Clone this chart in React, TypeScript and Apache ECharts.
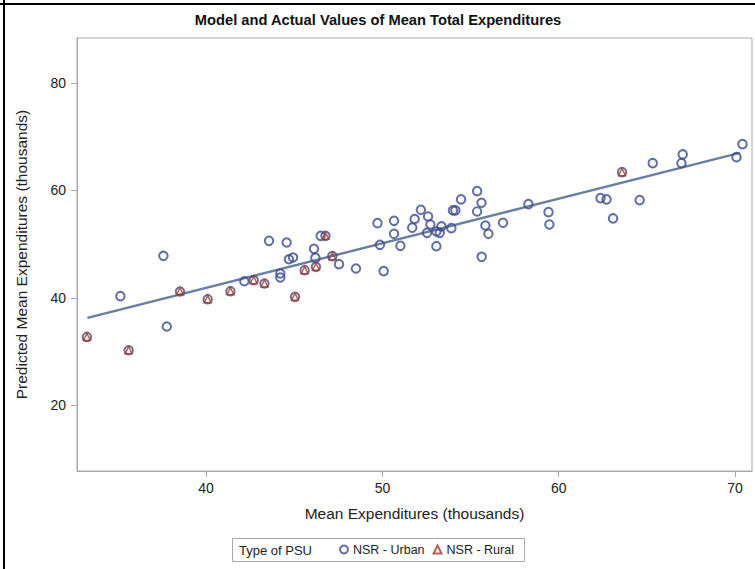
import React, { useEffect, useRef } from "react";
import * as echarts from "echarts";

const urbanX = [35.14, 37.58, 37.77, 42.17, 43.57, 44.21, 44.21, 44.57, 44.7, 44.93, 46.12, 46.2, 46.5, 47.54, 48.5, 49.72, 49.86, 50.07, 50.66, 50.66, 51.02, 51.69, 51.83, 52.18, 52.53, 52.59, 52.72, 53.06, 53.25, 53.35, 53.06, 53.91, 54.0, 54.14, 54.46, 55.37, 55.62, 55.37, 55.84, 56.01, 55.63, 56.84, 58.28, 59.42, 59.47, 62.37, 62.71, 63.08, 64.59, 65.33, 67.03, 66.96, 70.08, 70.42];
const urbanY = [40.32, 47.83, 34.67, 43.1, 50.62, 44.55, 43.8, 50.32, 47.2, 47.53, 49.13, 47.45, 51.55, 46.28, 45.48, 53.92, 49.88, 44.98, 54.35, 51.93, 49.69, 53.08, 54.7, 56.4, 52.11, 55.17, 53.68, 52.37, 52.11, 53.31, 49.63, 52.99, 56.29, 56.29, 58.34, 59.89, 57.71, 56.1, 53.49, 51.93, 47.64, 53.98, 57.46, 55.97, 53.68, 58.58, 58.34, 54.8, 58.21, 65.09, 66.72, 65.09, 66.21, 68.64];

const ruralX = [33.24, 35.61, 38.52, 40.09, 41.38, 42.7, 43.31, 45.04, 45.59, 46.23, 46.77, 47.16, 63.59];
const ruralY = [32.73, 30.25, 41.19, 39.76, 41.25, 43.3, 42.68, 40.19, 45.16, 45.78, 51.55, 47.77, 63.42];

const fitX = [33.27, 70.27];
const fitY = [36.27, 67.02];

const xTicks = [40, 50, 60, 70];
const yTicks = [20, 40, 60, 80];

const TITLE = "Model and Actual Values of Mean Total Expenditures";
const X_NAME = "Mean Expenditures (thousands)";
const Y_NAME = "Predicted Mean Expenditures (thousands)";
const LEGEND_TITLE = "Type of PSU";
const URBAN = "NSR - Urban";
const RURAL = "NSR - Rural";

const FONT = '"Liberation Sans", Arial, sans-serif';
const AXIS_GRAY = "#a9a9a9";
const BLUE = "#3b4b8e";
const RED = "#A23A2E";

const zip = (xs: number[], ys: number[]) => xs.map((x, i) => [x, ys[i]]);

export default function App() {
  const ref = useRef<HTMLDivElement>(null);
  useEffect(() => {
    document.body.style.margin = "0";
    const chart = echarts.init(ref.current!, null, { renderer: "svg" });
    chart.setOption({
      animation: false,
      backgroundColor: "#ffffff",
      textStyle: { fontFamily: FONT },
      grid: {
        left: 77,
        top: 38,
        width: 675,
        height: 433,
        show: true,
        borderColor: AXIS_GRAY,
        borderWidth: 1,
        backgroundColor: "transparent",
      },
      xAxis: {
        type: "value",
        min: 32.68,
        max: 70.96,
        name: X_NAME,
        nameLocation: "middle",
        nameGap: 34,
        nameTextStyle: { fontSize: 15.5, color: "#222", fontFamily: FONT },
        axisLine: { show: true, lineStyle: { color: AXIS_GRAY, width: 1 } },
        axisTick: { show: true, length: 6, lineStyle: { color: AXIS_GRAY }, customValues: xTicks },
        axisLabel: { customValues: xTicks, fontSize: 14, color: "#222", margin: 10, fontFamily: FONT },
        splitLine: { show: false },
      },
      yAxis: {
        type: "value",
        min: 7.76,
        max: 88.4,
        name: Y_NAME,
        nameLocation: "middle",
        nameGap: 48,
        nameTextStyle: { fontSize: 15.5, color: "#222", fontFamily: FONT },
        axisLine: { show: true, lineStyle: { color: AXIS_GRAY, width: 1 } },
        axisTick: { show: true, length: 6, lineStyle: { color: AXIS_GRAY }, customValues: yTicks },
        axisLabel: { customValues: yTicks, fontSize: 14, color: "#222", margin: 11, fontFamily: FONT },
        splitLine: { show: false },
      },
      legend: {
        data: [URBAN, RURAL],
        orient: "horizontal",
        left: 339,
        top: 543,
        itemWidth: 8,
        itemHeight: 8,
        itemGap: 8,
        padding: 0,
        textStyle: { fontSize: 12.5, color: "#222", fontFamily: FONT },
      },
      graphic: [
        { type: "line", shape: { x1: 4, y1: 0, x2: 4, y2: 569 }, style: { stroke: "#000", lineWidth: 2 } },
        { type: "line", shape: { x1: 0, y1: 4, x2: 755, y2: 4 }, style: { stroke: "#000", lineWidth: 2 } },
        {
          type: "text",
          x: 378,
          y: 20,
          style: { text: TITLE, font: `bold 14.7px ${FONT}`, fill: "#111", align: "center", verticalAlign: "middle" },
        },
        {
          type: "rect",
          shape: { x: 232.5, y: 538.5, width: 292, height: 23 },
          style: { fill: "none", stroke: AXIS_GRAY, lineWidth: 1 },
        },
        {
          type: "text",
          x: 239,
          y: 550,
          style: { text: LEGEND_TITLE, font: `13px ${FONT}`, fill: "#222", align: "left", verticalAlign: "middle" },
        },
      ],
      series: [
        {
          type: "line",
          name: "fit",
          data: zip(fitX, fitY),
          showSymbol: false,
          symbol: "none",
          silent: true,
          lineStyle: { color: "#687ea3", width: 2.4 },
          z: 1,
        },
        {
          type: "scatter",
          name: URBAN,
          data: zip(urbanX, urbanY),
          symbol: "circle",
          symbolSize: 8.5,
          itemStyle: { color: "rgba(255,255,255,0)", borderColor: BLUE, borderWidth: 2 },
          z: 3,
        },
        {
          type: "scatter",
          name: "ruralCircle",
          data: zip(ruralX, ruralY),
          symbol: "circle",
          symbolSize: 8.5,
          itemStyle: { color: "rgba(255,255,255,0)", borderColor: "#56466f", borderWidth: 2 },
          z: 3,
        },
        {
          type: "scatter",
          name: RURAL,
          data: zip(ruralX, ruralY),
          symbol: "triangle",
          symbolSize: 7,
          itemStyle: { color: "rgba(255,255,255,0)", borderColor: RED, borderWidth: 1.5 },
          z: 4,
        },
      ],
    });
    return () => chart.dispose();
  }, []);
  return <div ref={ref} style={{ position: "fixed", left: 0, top: 0, width: 755, height: 569 }} />;
}
